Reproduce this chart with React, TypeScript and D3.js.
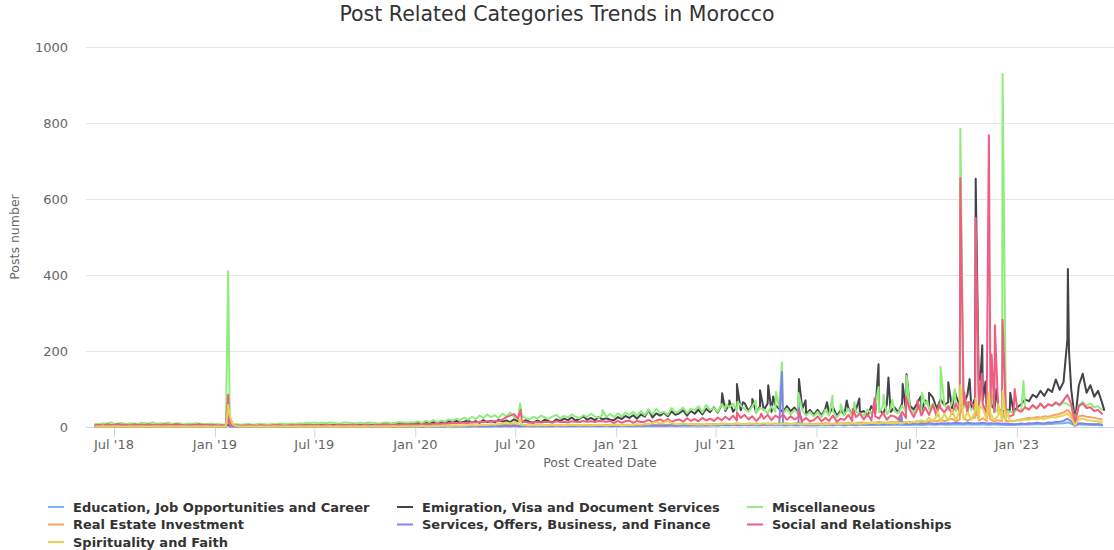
import React from 'react';
import * as d3 from 'd3';

// Weekly chunks: each chunk starts at the matching date in chunkStarts, one value per week.
const chunkStarts = ['2018-05-28', '2018-12-31', '2019-12-30', '2020-12-28', '2021-12-27', '2022-12-26'];

const educationWeekly = [
  [0,1,0,1,1,0,1,0,1,0, 1,1,0,1,0,1,0,1,1,0, 1,0,1,0,1,1,0,1,0,1, 0],
  [1,0,1,0,1,1,0,1,0,1, 1,0,1,0,1,1,0,1,0,1, 0,1,1,0,1,0,1,1,0,1, 0,1,1,0,1,0,1,1,0,1, 1,0,1,1,0,1,1,0,1,1, 0,1],
  [1,1,0,1,1,2,1,1,2,1, 1,2,1,2,1,2,2,1,2,2, 1,2,2,3,2,2,3,2,2,2, 3,2,2,3,2,2,3,2,3,2, 2,3,2,3,2,3,2,3,3,2, 3,2],
  [2,3,2,3,3,2,3,3,4,3, 3,4,3,4,3,4,4,3,4,3, 4,4,3,4,4,3,4,4,5,4, 4,5,4,4,5,4,5,4,4,5, 4,5,4,5,4,4,5,4,4,5, 4,4],
  [4,4,5,4,5,4,5,5,4,5, 5,4,5,5,6,5,5,6,5,6, 5,6,6,5,6,5,6,6,5,6, 7,6,6,7,6,6,7,6,7,6, 7,6,7,6,7,6,6,7,6,6, 5,6],
  [5,6,6,7,6,7,7,8,7,8, 8,9,9,10,12,9,3,7,6,6, 5,5,5,4],
];
const educationSpikes: [string, number][] = [['2019-01-24', 25]];

const emigrationWeekly = [
  [3,4,3,5,4,3,4,5,3,4, 4,3,5,4,3,4,3,5,4,4, 3,4,5,3,4,3,4,5,4,3, 4],
  [4,4,3,5,4,4,3,4,5,4, 3,4,4,5,4,3,4,5,4,4, 5,4,3,5,4,5,4,5,6,4, 5,5,6,5,4,6,5,6,5,7, 6,5,6,7,6,8,7,6,8,7, 9,8],
  [8,11,7,12,9,13,10,14,9,15, 12,16,11,14,17,12,15,11,18,13, 16,12,19,14,17,13,20,15,12,18, 14,11,17,13,19,15,12,20,16,22, 18,25,17,21,28,19,24,18,26,20, 23,19],
  [18,26,21,29, 24,31,22,33, 27,45,25,36,30, 38,28,41,32, 36,44,30,42, 35,46,33,48,39, 52,38,58,42, 60,40,55,44,63, 42,58,38,54, 45,62,40,57,48, 39,55,42,51, 36,48,34,45],
  [32,45,30,48, 35,52,29,44, 33,50,31,46,38, 42,30,55,36, 48,34,58,40, 52,38,62,44,56, 46,64,42,70, 55,78,48,72,58, 65,50,82,56, 60,85,52,76,62, 70,48,66,45, 52,36,48,40],
  [40,52,60,72,68,85,78,95,82,100, 92,125,98,118,230,100,15,110,140,90, 110,80,95,65],
];
const emigrationSpikes: [string, number][] = [
  ['2021-07-13', 89], ['2021-07-26', 70], ['2021-08-09', 113], ['2021-08-20', 65], ['2021-09-06', 74],
  ['2021-09-20', 97], ['2021-10-05', 110], ['2021-10-14', 80], ['2021-11-30', 126], ['2021-12-12', 70],
  ['2022-01-20', 65], ['2022-02-25', 70], ['2022-03-20', 75], ['2022-04-24', 165], ['2022-05-12', 130],
  ['2022-06-07', 113], ['2022-06-14', 139], ['2022-07-10', 80], ['2022-07-25', 90], ['2022-08-29', 118],
  ['2022-09-10', 95], ['2022-10-07', 126], ['2022-10-18', 653], ['2022-10-30', 215], ['2022-11-05', 120],
  ['2022-11-25', 100], ['2022-12-20', 90], ['2023-04-04', 416], ['2023-04-06', 200], ['2023-06-09', 45],
];

const miscWeekly = [
  [8,7,10,9,12,8,9,11,7,10, 9,8,11,10,9,12,8,10,9,11, 8,9,10,7,9,8,10,9,8,7, 9],
  [7,8,6,7,8,7,7,6,7,8, 6,7,8,7,6,8,7,9,8,7, 9,8,10,9,11,10,12,9,11,10, 12,11,9,10,12,11,10,9,11,10, 12,11,10,9,11,12,10,11,13,12, 11,12],
  [12,15,10,16,13,18,12,17,14,20, 16,22,18,25,19,27,21,30,24,33, 26,31,24,35,28,38,26,22,29,24, 20,27,22,30,25,21,28,32,23,29, 25,33,27,23,31,26,35,28,24,32, 27,34],
  [26,36,28,38, 32,40,29,42, 31,45,34,48,36, 40,32,50,38, 42,52,36,48, 44,55,38,58,45, 50,40,60,46, 52,62,42,56,48, 40,54,38,50, 46,36,55,40,52, 36,48,33,45, 34,44,30,40],
  [28,40,26,45, 30,42,25,38, 32,48,27,40,36, 30,46,35,52, 38,55,34,48, 42,36,56,40,50, 36,52,42,60, 46,62,40,55,58, 44,64,42,56, 50,66,44,58,48, 55,40,52,38, 48,36,45,40],
  [38,46,42,52,46,55,50,58,52,60, 55,62,56,65,60,55,20,58,66,56, 62,52,55,45],
];
const miscSpikes: [string, number][] = [
  ['2019-01-25', 410], ['2020-07-10', 62], ['2020-12-07', 45], ['2021-07-20', 60], ['2021-08-10', 66],
  ['2021-09-12', 70], ['2021-10-19', 92], ['2021-10-30', 170], ['2021-11-29', 90], ['2022-01-30', 82],
  ['2022-02-14', 60], ['2022-03-11', 66], ['2022-04-24', 105], ['2022-05-03', 85], ['2022-05-19', 71],
  ['2022-06-14', 135], ['2022-07-12', 90], ['2022-07-22', 68], ['2022-08-15', 158], ['2022-09-10', 100],
  ['2022-09-20', 785], ['2022-10-25', 120], ['2022-11-18', 85], ['2022-12-06', 929], ['2023-01-13', 121],
];

const realEstateWeekly = [
  [1,2,1,2,1,1,2,1,2,1, 2,1,1,2,1,2,1,1,2,1, 2,1,1,2,1,2,1,1,2,1, 2],
  [1,1,2,1,15,2,1,1,2,1, 1,1,2,1,1,2,1,1,1,2, 1,1,2,1,1,2,1,1,2,1, 2,1,1,2,1,2,1,2,1,2, 2,1,2,1,2,2,1,2,2,1, 2,2],
  [2,2,3,2,3,2,3,3,2,3, 4,3,3,4,3,4,3,4,5,4, 4,5,4,5,6,5,7,5,4,4, 3,4,4,3,4,5,4,4,5,4, 4,5,4,5,4,5,5,4,5,4, 5,5],
  [4,5,4,5,5,4,6,5,5,6, 5,6,7,6,6,7,6,8,7,6, 7,8,7,6,8,7,8,7,9,8, 7,8,9,8,7,9,8,9,8,7, 9,8,9,8,10,9,8,9,10,9, 8,9],
  [8,9,8,10,9,8,10,9,10,11, 9,10,12,11,10,12,11,13,12,11, 13,12,14,13,12,14,13,15,14,13, 15,18,14,20,15,19,22,15,20,24, 16,22,25,17,23,16,20,15,18,14, 16,15],
  [15,18,20,22,24,23,26,25,28,27, 30,32,35,38,45,35,8,28,30,27, 26,24,22,20],
];
const realEstateSpikes: [string, number][] = [
  ['2019-01-25', 45], ['2022-09-20', 60], ['2022-10-18', 45], ['2022-11-11', 50], ['2022-12-06', 40],
];

const servicesWeekly = [
  [1,1,1,2,1,1,1,1,2,1, 1,1,1,2,1,1,1,1,1,2, 1,1,1,1,2,1,1,1,1,2, 1],
  [1,1,1,1,1,1,1,1,1,2, 1,1,1,1,1,2,1,1,1,1, 1,1,2,1,1,1,1,1,2,1, 1,1,1,1,2,1,1,1,1,2, 1,1,1,1,2,1,1,1,2,1, 1,1],
  [1,1,2,1,1,2,1,2,1,2, 2,1,2,2,1,2,2,2,1,2, 2,3,2,2,3,2,3,2,2,3, 2,2,3,2,2,3,2,3,2,2, 3,2,3,2,3,3,2,3,2,3, 3,2],
  [3,2,3,3,2,3,3,4,3,3, 4,3,4,3,4,4,3,4,5,4, 4,5,4,5,4,5,5,4,5,6, 5,5,6,5,6,5,6,7,5,6, 8,6,7,6,7,6,7,6,5,6, 5,6],
  [5,6,5,6,6,5,7,6,6,7, 6,7,8,7,6,8,7,8,7,8, 9,7,8,9,8,7,9,8,9,8, 10,9,8,10,9,10,9,11,10,9, 11,10,9,10,11,9,10,9,10,8, 9,8],
  [7,8,9,8,10,9,11,10,9,12, 11,13,14,16,22,15,4,10,9,8, 8,7,8,6],
];
const servicesSpikes: [string, number][] = [
  ['2019-01-23', 50], ['2021-10-30', 145], ['2021-11-30', 50], ['2022-06-05', 30],
];

const socialWeekly = [
  [5,6,4,7,5,6,8,5,6,4, 7,5,6,5,7,4,6,5,7,6, 5,8,6,5,4,6,5,7,5,6, 5],
  [5,4,5,3,4,5,4,3,4,5, 4,3,5,4,3,4,5,4,3,4, 5,4,5,4,3,5,4,5,4,6, 5,4,5,6,4,5,6,5,4,6, 5,4,6,5,7,6,5,6,5,7, 6,5],
  [6,7,6,8,7,8,9,8,10,9, 11,10,12,11,10,13,12,14,13,15, 14,16,15,20,26,30,34,22,16,13, 11,12,13,12,14,13,12,15,13,14, 12,15,14,13,16,14,15,13,16,15, 14,16],
  [10,16,11,15, 17,11,16,13, 14,19,12,17,20, 14,21,13,18, 20,14,23,16, 21,15,24,17,22, 16,25,18,27, 19,30,17,24,32, 20,28,16,26, 22,32,18,30,24, 33,19,28,20, 26,16,24,15],
  [18,28,15,24, 16,30,14,22, 19,32,16,26,35, 20,34,18,28, 22,38,19,30, 28,20,40,24,45, 26,48,30,52, 32,58,28,50,38, 55,34,62,40, 58,36,66,42,55, 60,36,52,40, 45,30,40,28],
  [32,45,40,52,46,58,48,62,50,60, 56,65,58,70,85,60,12,55,62,50, 52,42,45,35],
];
const socialSpikes: [string, number][] = [
  ['2019-01-25', 85], ['2020-07-11', 45], ['2021-08-09', 38], ['2021-09-22', 35], ['2021-11-29', 42],
  ['2022-03-08', 48], ['2022-04-17', 76], ['2022-06-13', 79], ['2022-07-04', 70], ['2022-08-12', 60],
  ['2022-09-20', 655], ['2022-09-27', 92], ['2022-10-05', 65], ['2022-10-18', 550], ['2022-10-29', 140],
  ['2022-11-11', 768], ['2022-11-16', 190], ['2022-11-22', 268], ['2022-12-06', 282], ['2022-12-28', 100],
];

const spiritualityWeekly = [
  [1,1,2,1,1,2,1,1,1,2, 1,1,2,1,1,1,2,1,1,2, 1,1,1,2,1,1,2,1,1,2, 1],
  [1,1,1,2,28,5,2,1,1,2, 1,1,2,1,1,1,2,1,1,2, 1,1,2,1,1,2,1,2,1,1, 2,1,2,1,1,2,1,2,1,2, 1,2,2,1,2,1,2,2,1,2, 2,2],
  [2,2,3,2,2,3,2,3,3,2, 3,4,3,3,4,5,4,5,6,5, 7,6,8,10,12,9,14,8,6,5, 4,5,4,5,4,5,6,4,5,4, 5,6,5,4,6,5,4,5,6,5, 4,5],
  [5,6,4,5,6,5,7,6,8,7, 10,14,9,12,16,10,8,7,9,8, 7,8,6,7,8,6,7,8,7,9, 8,7,9,8,7,8,9,7,8,10, 8,9,7,8,9,8,7,9,8,7, 8,7],
  [7,8,6,8,7,9,7,8,9,8, 10,9,8,10,9,11,10,9,12,10, 11,9,12,10,13,11,14,12,18,13, 25,14,30,15,35,17,40,18,45,20, 38,19,42,21,48,20,35,18,30,17, 20,16],
  [15,17,18,20,19,22,20,23,21,24, 26,25,28,30,35,25,5,20,22,18, 17,16,15,12],
];
const spiritualitySpikes: [string, number][] = [
  ['2019-01-25', 58], ['2020-07-10', 20], ['2022-08-10', 40], ['2022-09-05', 45], ['2022-09-20', 110],
  ['2022-10-18', 75], ['2022-10-25', 55], ['2022-11-11', 90], ['2022-11-28', 60], ['2022-12-06', 95],
  ['2022-12-15', 40],
];

const seriesNames = [
  'Education, Job Opportunities and Career',
  'Emigration, Visa and Document Services',
  'Miscellaneous',
  'Real Estate Investment',
  'Services, Offers, Business, and Finance',
  'Social and Relationships',
  'Spirituality and Faith',
];
const seriesColors = ['#7cb5ec', '#434348', '#90ed7d', '#f7a35c', '#8085e9', '#f15c80', '#e4d354'];
const seriesWeekly = [educationWeekly, emigrationWeekly, miscWeekly, realEstateWeekly, servicesWeekly, socialWeekly, spiritualityWeekly];
const seriesSpikes = [educationSpikes, emigrationSpikes, miscSpikes, realEstateSpikes, servicesSpikes, socialSpikes, spiritualitySpikes];

const yTicks = [0, 200, 400, 600, 800, 1000];

const FONT = '"Lucida Grande", "Lucida Sans Unicode", "DejaVu Sans", Arial, sans-serif';
const W = 1114;
const H = 550;
const PL = 86, PR = 1114, PT = 47, PB = 427;

const parse = d3.utcParse('%Y-%m-%d');

type Pt = { d: Date; v: number };

function buildSeries(weekly: number[][], spikes: [string, number][]): Pt[] {
  const pts: Pt[] = [];
  weekly.forEach((chunk, k) => {
    const s = parse(chunkStarts[k]) as Date;
    chunk.forEach((v, i) => pts.push({ d: d3.utcDay.offset(s, 7 * i), v }));
  });
  spikes.forEach(([ds, v]) => pts.push({ d: parse(ds) as Date, v }));
  pts.sort((a, b) => +a.d - +b.d);
  return pts;
}

export default function App() {
  const x = d3.scaleUtc()
    .domain([new Date(Date.UTC(2018, 4, 11)), new Date(Date.UTC(2023, 5, 27))])
    .range([PL, PR]);
  const y = d3.scaleLinear().domain([0, 1000]).range([PB, PT]);
  const xTicks = x.ticks(d3.utcMonth.every(6) as any);
  const fmt = d3.utcFormat("%b '%y");
  const line = d3.line<Pt>().x((p) => x(p.d)).y((p) => y(p.v));

  const legendCols = [48, 397, 747];
  const legendRows = [507, 524.5, 542];

  return (
    <svg width={W} height={H} style={{ position: 'absolute', left: 0, top: 0, fontFamily: FONT }}>
      <rect x={0} y={0} width={W} height={H} fill="#ffffff" />
      <text x={W / 2} y={21} textAnchor="middle" fontSize={20.5} fill="#333333">
        Post Related Categories Trends in Morocco
      </text>
      {yTicks.map((t) => (
        <g key={t}>
          {t > 0 && <line x1={PL} x2={PR} y1={y(t) + 0.5} y2={y(t) + 0.5} stroke="#e6e6e6" strokeWidth={1} />}
          <text x={68} y={y(t)} dy="0.35em" textAnchor="end" fontSize={13} fill="#666666">{t}</text>
        </g>
      ))}
      <text transform={`translate(15,${(PT + PB) / 2}) rotate(-90)`} textAnchor="middle" dy="0.35em" fontSize={12.5} fill="#666666">
        Posts number
      </text>
      <line x1={PL} x2={PR} y1={PB + 0.5} y2={PB + 0.5} stroke="#ccd6eb" strokeWidth={1} />
      {xTicks.map((t) => (
        <g key={+t}>
          <line x1={x(t) + 0.5} x2={x(t) + 0.5} y1={PB} y2={PB + 10} stroke="#ccd6eb" strokeWidth={1} />
          <text x={x(t)} y={449} textAnchor="middle" fontSize={13} fill="#666666">{fmt(t)}</text>
        </g>
      ))}
      <text x={(PL + PR) / 2} y={463} dy="0.35em" textAnchor="middle" fontSize={12.5} fill="#666666">
        Post Created Date
      </text>
      <g>
        {seriesWeekly.map((w, i) => (
          <path key={i} d={line(buildSeries(w, seriesSpikes[i])) || ''} fill="none" stroke={seriesColors[i]}
            strokeWidth={2} strokeLinejoin="round" strokeLinecap="round" />
        ))}
      </g>
      {seriesNames.map((n, i) => {
        const cx = legendCols[i % 3];
        const cy = legendRows[Math.floor(i / 3)];
        return (
          <g key={n}>
            <line x1={cx} x2={cx + 16} y1={cy} y2={cy} stroke={seriesColors[i]} strokeWidth={2} />
            <text x={cx + 25} y={cy} dy="0.35em" fontSize={13} fontWeight="bold" fill="#333333">{n}</text>
          </g>
        );
      })}
    </svg>
  );
}
